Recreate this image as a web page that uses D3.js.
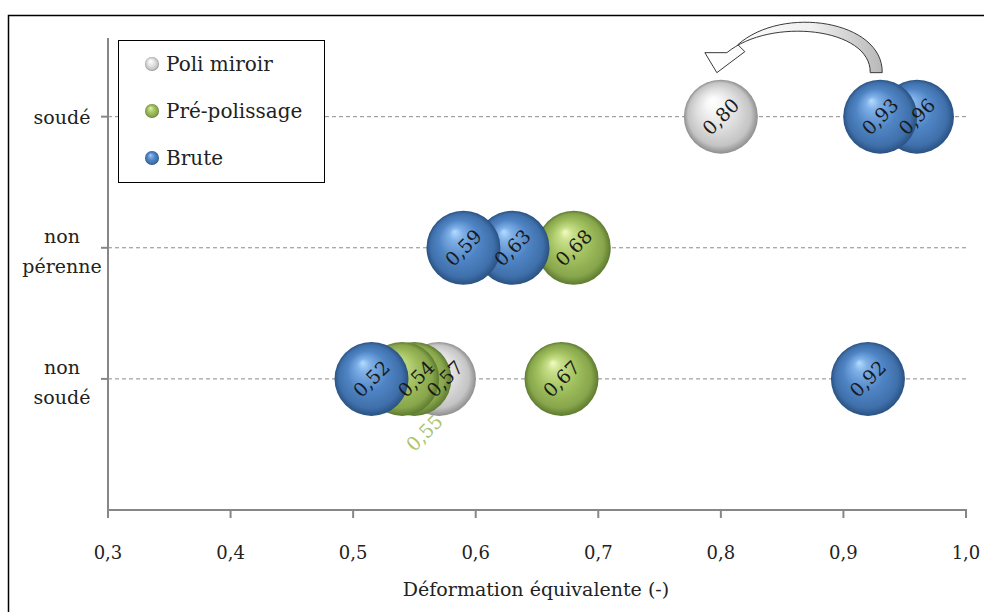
<!DOCTYPE html>
<html><head><meta charset="utf-8">
<script src="https://cdn.jsdelivr.net/npm/d3@7"></script>
<style>body{margin:0;background:#fff}svg{display:block}text{font-family:"DejaVu Serif",serif;fill:#222}</style>
</head><body><svg id="c" width="984" height="612"></svg>
<script>
const categories = ["non soudé", "non pérenne", "soudé"];
const categoryLines = [["non", "soudé"], ["non", "pérenne"], ["soudé"]];
const seriesNames = ["Poli miroir", "Pré-polissage", "Brute"];
const xTicks = [0.3, 0.4, 0.5, 0.6, 0.7, 0.8, 0.9, 1.0];
// points: series, category, value
const pointSeries   = ["Brute","Brute","Poli miroir", "Pré-polissage","Brute","Brute", "Brute","Pré-polissage","Poli miroir","Pré-polissage","Pré-polissage","Brute"];
const pointCategory = ["soudé","soudé","soudé", "non pérenne","non pérenne","non pérenne", "non soudé","non soudé","non soudé","non soudé","non soudé","non soudé"];
const pointValue    = [0.96,0.93,0.80, 0.68,0.63,0.59, 0.92,0.67,0.57,0.55,0.54,0.515];
const pointLabel    = ["0,96","0,93","0,80","0,68","0,63","0,59","0,92","0,67","0,57","0,55","0,54","0,52"];
const displacedLabel = [false,false,false,false,false,false,false,false,false,true,false,false];
const xTitle = "Déformation équivalente (-)";

const svg = d3.select("#c");
const W = 984, H = 612;
const x = d3.scaleLinear().domain([0.3, 1.0]).range([108, 966]);
const y = d3.scaleLinear().domain([0, 3.6]).range([510, 38]);
const catY = c => y(categories.indexOf(c) + 1);
const R = 37;

// outer frame
svg.append("rect").attr("x", 8.5).attr("y", 15.5).attr("width", W).attr("height", H)
  .attr("fill", "none").attr("stroke", "#000").attr("stroke-width", 1.5);

const defs = svg.append("defs");
const pal = {
  "Poli miroir":   ["#ffffff", "#f8f8f8", "#dedede", "#c4c4c4", "#8e8e8e"],
  "Pré-polissage": ["#f2fbc4", "#c8e08a", "#9fbe5c", "#87a54b", "#5e7a30"],
  "Brute":         ["#b4dcff", "#7fb0e8", "#4f84c4", "#3f70ab", "#2a5182"]
};
seriesNames.forEach((s, i) => {
  const g = defs.append("radialGradient").attr("id", "g" + i)
    .attr("cx", "50%").attr("cy", "50%").attr("r", "50%").attr("fx", "38%").attr("fy", "28%");
  const offs = [0, 0.18, 0.55, 0.85, 1];
  pal[s].forEach((c, k) => g.append("stop").attr("offset", offs[k]).attr("stop-color", c));
});
const arrowGrad = defs.append("linearGradient").attr("id", "ag").attr("x1", "0").attr("x2", "1").attr("y1", "0").attr("y2", "0");
arrowGrad.append("stop").attr("offset", 0).attr("stop-color", "#ffffff");
arrowGrad.append("stop").attr("offset", 0.6).attr("stop-color", "#f0f0f0");
arrowGrad.append("stop").attr("offset", 1).attr("stop-color", "#b8b8b8");

// grid lines
svg.append("g").selectAll("line").data(categories).join("line")
  .attr("x1", x(0.3)).attr("x2", x(1.0)).attr("y1", d => catY(d)).attr("y2", d => catY(d))
  .attr("stroke", "#8c8c8c").attr("stroke-width", 1).attr("stroke-dasharray", "4,3");

// axes
const axisColor = "#878787";
svg.append("line").attr("x1", x(0.3)).attr("x2", x(0.3)).attr("y1", y(3.6)).attr("y2", y(0))
  .attr("stroke", axisColor).attr("stroke-width", 2);
svg.append("line").attr("x1", x(0.3) - 1).attr("x2", x(1.0) + 1).attr("y1", y(0)).attr("y2", y(0))
  .attr("stroke", axisColor).attr("stroke-width", 2);
svg.append("g").selectAll("line").data(xTicks).join("line")
  .attr("x1", d => x(d)).attr("x2", d => x(d)).attr("y1", y(0)).attr("y2", y(0) + 8)
  .attr("stroke", axisColor).attr("stroke-width", 2);
svg.append("g").selectAll("line").data(categories).join("line")
  .attr("x1", x(0.3) - 7).attr("x2", x(0.3)).attr("y1", d => catY(d)).attr("y2", d => catY(d))
  .attr("stroke", axisColor).attr("stroke-width", 2);
svg.append("g").selectAll("text").data(xTicks).join("text")
  .attr("x", d => x(d)).attr("y", 559).attr("text-anchor", "middle").attr("font-size", 18)
  .text(d => d3.format(".1f")(d).replace(".", ","));
svg.append("text").attr("x", 536).attr("y", 596).attr("text-anchor", "middle").attr("font-size", 19).text(xTitle);

// category labels
categories.forEach((c, i) => {
  const lines = categoryLines[i];
  const n = lines.length;
  const t = svg.append("text").attr("text-anchor", "middle").attr("font-size", 19);
  lines.forEach((l, k) => {
    t.append("tspan").attr("x", 62).attr("y", catY(c) + 7 + (k - (n - 1) / 2) * 30 + (n > 1 ? 3 : 0)).text(l);
  });
});

// bubbles (larger values first so smaller ones sit in front)
const pts = pointValue.map((v, i) => ({v, s: pointSeries[i], c: pointCategory[i], l: pointLabel[i], d: displacedLabel[i]}))
  .sort((a, b) => b.v - a.v);
svg.append("g").selectAll("circle").data(pts).join("circle")
  .attr("cx", p => x(p.v)).attr("cy", p => catY(p.c)).attr("r", R)
  .attr("fill", p => `url(#g${seriesNames.indexOf(p.s)})`);
// labels on top of all bubbles (small nudges to avoid overlapping labels, as in the original)
const nudge = {"0,54": 14, "0,57": 6};
svg.append("g").selectAll("text").data(pts).join("text")
  .attr("transform", p => p.d
    ? `translate(${x(p.v) + 10},${catY(p.c) + 54}) rotate(-45)`
    : `translate(${x(p.v) + (nudge[p.l] || 0)},${catY(p.c)}) rotate(-45)`)
  .attr("text-anchor", "middle").attr("dy", "0.35em").attr("font-size", 19)
  .style("fill", p => p.d ? "#a9c46e" : "#1a1a1a").text(p => p.l);

// curved arrow from 0,93 to 0,80 (soudé)
const ax0 = x(0.93), ax1 = x(0.80), ay = catY("soudé");
const arrow = d3.path();
arrow.moveTo(ax0 + 2, ay - 44);
arrow.bezierCurveTo(ax0 + 3, ay - 96, ax1 + 62, ay - 112, ax1 + 17, ay - 72);
arrow.lineTo(ax1 + 24, ay - 65);
arrow.lineTo(ax1 - 4, ay - 44);
arrow.lineTo(ax1 - 16, ay - 64);
arrow.lineTo(ax1 + 6, ay - 64);
arrow.bezierCurveTo(ax1 + 50, ay - 100, ax0 - 9, ay - 89, ax0 - 10, ay - 44);
arrow.closePath();
svg.append("path").attr("d", arrow.toString()).attr("fill", "url(#ag)").attr("stroke", "#3a3a3a").attr("stroke-width", 1);

// legend
const lg = svg.append("g");
lg.append("rect").attr("x", 118.5).attr("y", 40.5).attr("width", 206).attr("height", 142)
  .attr("fill", "#fff").attr("stroke", "#000").attr("stroke-width", 1);
seriesNames.forEach((s, i) => {
  const yy = 64 + i * 47;
  lg.append("circle").attr("cx", 152).attr("cy", yy).attr("r", 7).attr("fill", `url(#g${i})`);
  lg.append("text").attr("x", 166).attr("y", yy + 7).attr("font-size", 20).text(s);
});
</script></body></html>
